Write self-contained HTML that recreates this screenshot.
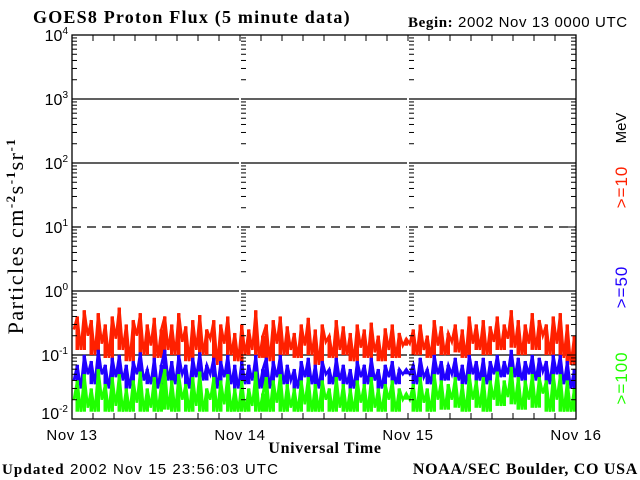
<!DOCTYPE html>
<html><head><meta charset="utf-8"><style>
html,body{margin:0;padding:0;background:#fff;}
svg{display:block;}
.sans{font-family:"Liberation Sans",sans-serif;}
.serif{font-family:"Liberation Serif",serif;}
</style></head><body>
<svg id="chart" width="640" height="480" viewBox="0 0 640 480" xmlns="http://www.w3.org/2000/svg">
<text x="33" y="23" class="serif" font-size="18" font-weight="bold" letter-spacing="1.2">GOES8 Proton Flux (5 minute data)</text>
<text x="408" y="27" class="sans" font-size="15" letter-spacing="0.6"><tspan class="serif" font-weight="bold">Begin:</tspan> 2002 Nov 13 0000 UTC</text>
<text transform="translate(23,236) rotate(-90)" text-anchor="middle" class="serif" font-size="22" letter-spacing="1.5">Particles cm<tspan dy="-8" font-size="13" font-weight="bold">-2</tspan><tspan dy="8">s</tspan><tspan dy="-8" font-size="13" font-weight="bold">-1</tspan><tspan dy="8">sr</tspan><tspan dy="-8" font-size="13" font-weight="bold">-1</tspan></text>
<text x="325" y="453" text-anchor="middle" class="serif" font-size="16" font-weight="bold" letter-spacing="0.6">Universal Time</text>
<text x="2" y="474" class="sans" font-size="15" letter-spacing="1.1"><tspan class="serif" font-weight="bold">Updated</tspan> 2002 Nov 15 23:56:03 UTC</text>
<text x="638" y="474" text-anchor="end" class="serif" font-size="16" font-weight="bold" letter-spacing="0.7">NOAA/SEC Boulder, CO USA</text>
<text transform="translate(626,128) rotate(-90)" text-anchor="middle" class="sans" font-size="15" fill="#000">MeV</text>
<text transform="translate(627,187) rotate(-90)" text-anchor="middle" class="sans" font-size="17" letter-spacing="1" fill="#ff2000">&gt;=10</text>
<text transform="translate(627,287) rotate(-90)" text-anchor="middle" class="sans" font-size="17" letter-spacing="1" fill="#2000ff">&gt;=50</text>
<text transform="translate(627,378) rotate(-90)" text-anchor="middle" class="sans" font-size="17" letter-spacing="1" fill="#20ff00">&gt;=100</text>
<g id="grid"></g>
<g id="series"></g>
<g id="axes"></g>
</svg>
<script>
const dayLabels = ["Nov 13","Nov 14","Nov 15","Nov 16"];
const decades = [-2,-1,0,1,2,3,4];
const red10 = [0.25,0.4,0.12,0.5,0.2,0.35,0.1,0.45,0.15,0.3,0.09,0.4,0.18,0.55,0.12,0.3,0.08,0.35,0.2,0.45,0.1,0.3,0.14,0.38,0.09,0.25,0.4,0.12,0.3,0.1,0.45,0.16,0.28,0.08,0.35,0.12,0.42,0.1,0.25,0.18,0.35,0.07,0.3,0.15,0.4,0.1,0.22,0.08,
0.3,0.1,0.25,0.12,0.5,0.09,0.2,0.3,0.08,0.35,0.15,0.4,0.1,0.28,0.12,0.22,0.09,0.3,0.14,0.38,0.1,0.25,0.07,0.3,0.16,0.2,0.09,0.35,0.12,0.28,0.1,0.22,0.08,0.3,0.13,0.25,0.09,0.32,0.11,0.2,0.08,0.26,0.12,0.3,0.09,0.22,0.14,0.18,
0.15,0.25,0.1,0.3,0.12,0.2,0.09,0.35,0.14,0.28,0.1,0.22,0.16,0.3,0.11,0.25,0.09,0.4,0.15,0.3,0.12,0.35,0.1,0.28,0.16,0.4,0.12,0.3,0.18,0.5,0.13,0.35,0.1,0.3,0.15,0.45,0.12,0.35,0.2,0.3,0.1,0.4,0.15,0.45,0.09,0.3,0.07,0.2];
const blue50 = [0.04,0.07,0.03,0.1,0.05,0.08,0.035,0.12,0.05,0.07,0.03,0.09,0.045,0.1,0.04,0.07,0.03,0.08,0.05,0.11,0.04,0.06,0.035,0.09,0.03,0.07,0.12,0.04,0.08,0.035,0.1,0.05,0.07,0.03,0.09,0.045,0.11,0.04,0.07,0.05,0.09,0.03,0.08,0.045,0.1,0.035,0.07,0.03,
0.08,0.035,0.07,0.04,0.1,0.03,0.06,0.09,0.03,0.08,0.045,0.1,0.035,0.07,0.04,0.06,0.03,0.08,0.045,0.09,0.035,0.07,0.03,0.08,0.05,0.06,0.035,0.09,0.04,0.07,0.035,0.06,0.03,0.08,0.045,0.07,0.035,0.09,0.04,0.06,0.03,0.07,0.045,0.08,0.035,0.06,0.05,0.06,
0.05,0.07,0.035,0.09,0.045,0.06,0.035,0.1,0.05,0.08,0.04,0.07,0.05,0.09,0.04,0.07,0.035,0.1,0.05,0.08,0.04,0.09,0.035,0.08,0.05,0.1,0.045,0.08,0.05,0.12,0.045,0.09,0.04,0.08,0.05,0.1,0.04,0.09,0.055,0.08,0.035,0.1,0.05,0.1,0.035,0.08,0.03,0.06];
const green100 = [0.02,0.04,0.013,0.05,0.015,0.03,0.013,0.06,0.02,0.035,0.013,0.045,0.016,0.05,0.013,0.03,0.013,0.04,0.018,0.055,0.013,0.03,0.015,0.045,0.013,0.035,0.06,0.014,0.04,0.013,0.05,0.02,0.035,0.013,0.045,0.016,0.055,0.013,0.03,0.02,0.045,0.013,0.04,0.017,0.05,0.013,0.03,0.013,
0.04,0.013,0.03,0.016,0.055,0.013,0.025,0.045,0.013,0.04,0.018,0.05,0.013,0.035,0.015,0.03,0.013,0.04,0.017,0.045,0.013,0.035,0.013,0.04,0.02,0.03,0.013,0.045,0.015,0.035,0.013,0.03,0.013,0.04,0.018,0.035,0.013,0.045,0.015,0.03,0.013,0.035,0.02,0.04,0.013,0.03,0.02,0.025,
0.02,0.035,0.013,0.045,0.018,0.03,0.013,0.05,0.02,0.04,0.014,0.035,0.02,0.045,0.015,0.035,0.013,0.05,0.02,0.04,0.015,0.045,0.013,0.04,0.02,0.055,0.016,0.04,0.022,0.065,0.017,0.045,0.014,0.04,0.02,0.05,0.015,0.045,0.025,0.04,0.013,0.05,0.02,0.05,0.013,0.04,0.013,0.03];

const NS="http://www.w3.org/2000/svg";
const L=72,R=576,T=35,B=419,PXDEC=64;
function yScale(v){return 291-Math.log10(v)*PXDEC;}
function xScale(dayFrac){return L+(R-L)*dayFrac/3;}
function mk(tag,attrs,parent){const e=document.createElementNS(NS,tag);for(const k in attrs)e.setAttribute(k,attrs[k]);parent.appendChild(e);return e;}
const grid=document.getElementById('grid'),axes=document.getElementById('axes'),series=document.getElementById('series');

decades.forEach(d=>{
  if(d===-2||d===4)return;
  const y=yScale(Math.pow(10,d));
  [[L,xScale(1)-1],[xScale(1)+1,xScale(2)-1],[xScale(2)+1,R]].forEach(seg=>{
    const ln=mk('line',{x1:seg[0],x2:seg[1],y1:y,y2:y,stroke:'#000','stroke-width':1.3,'stroke-dasharray':d===1?'9,6':'none'},grid);
    
    
  });
});

function drawSeries(vals,color,name){
  const n=vals.length;
  const g=mk('g',{},series);
  
  
  const w=(R-L)/n;
  vals.forEach((v,i)=>{
    const lo=Math.min(v,vals[Math.max(0,i-1)],vals[Math.min(n-1,i+1)]);
    const y1=Math.min(B,yScale(v)),y2=Math.min(B,yScale(lo));
    if(y2-y1>0.5){
      mk('rect',{x:(xScale(3*(i+0.5)/n)-w/2).toFixed(1),y:y1.toFixed(1),width:w.toFixed(2),height:(y2-y1).toFixed(1),fill:color},g);
    }
  });
  const pts=vals.map((v,i)=>xScale(3*(i+0.5)/n).toFixed(1)+','+Math.min(B,yScale(v)).toFixed(1)).join(' ');
  mk('polyline',{points:pts,fill:'none',stroke:color,'stroke-width':2.5},g);
}
drawSeries(red10,'#ff2000','series-10mev');
drawSeries(blue50,'#2000ff','series-50mev');
drawSeries(green100,'#20ff00','series-100mev');

const fr=mk('rect',{x:L,y:T,width:R-L,height:B-T,fill:'none',stroke:'#000','stroke-width':1.3},axes);



[L,xScale(1),xScale(2),R].forEach((x,xi)=>{
  for(let d=-2;d<4;d++){
    for(let m=1;m<10;m++){
      const y=yScale(m*Math.pow(10,d));
      if(y>B||y<T)continue;
      const len=m===1?9:5;
      if(xi===0||xi===3){
        const dir=xi===0?1:-1;
        mk('line',{x1:x,x2:x+dir*len,y1:y,y2:y,stroke:'#000','stroke-width':1},axes);
      } else {
        mk('line',{x1:x+1,x2:x+6,y1:y,y2:y,stroke:'#000','stroke-width':1},axes);
      }
    }
  }
});
decades.forEach(d=>{
  const y=Math.min(yScale(Math.pow(10,d)),413);
  const t=mk('text',{x:68,y:y+6,'text-anchor':'end',class:'sans','font-size':16},axes);
  t.innerHTML='10<tspan dy="-7" font-size="10">'+d+'</tspan>';
  
  
});
for(let h=0;h<=72;h+=3){
  const x=xScale(h/24);
  mk('line',{x1:x,x2:x,y1:B,y2:B-6,stroke:'#000','stroke-width':1},axes);
  mk('line',{x1:x,x2:x,y1:T,y2:T+6,stroke:'#000','stroke-width':1},axes);
}
dayLabels.forEach((lab,i)=>{
  const t=mk('text',{x:xScale(i),y:440,'text-anchor':'middle',class:'sans','font-size':15,'letter-spacing':'0.6'},axes);
  t.textContent=lab;
  
  
});
</script>
</body></html>
